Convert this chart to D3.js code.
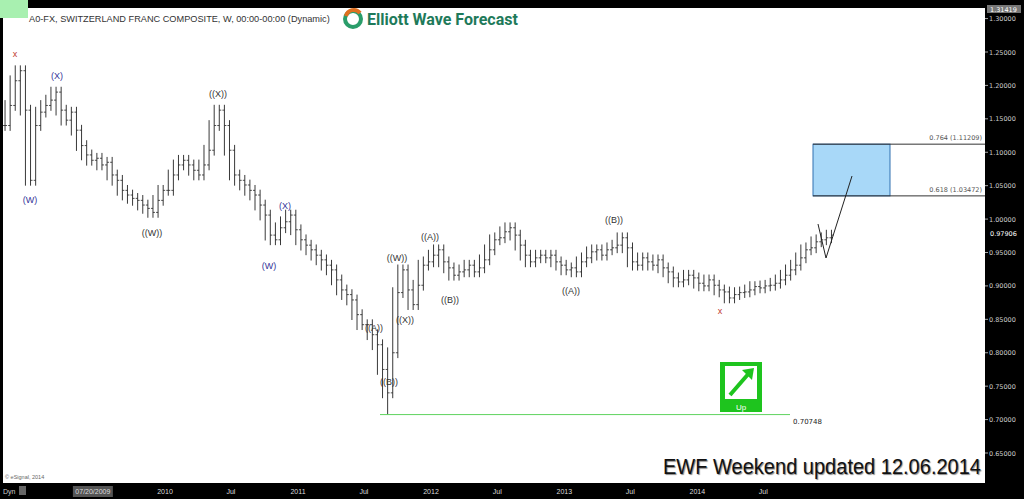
<!DOCTYPE html><html><head><meta charset="utf-8"><script src="https://cdn.jsdelivr.net/npm/d3@7"></script>
<style>body{margin:0;background:#000}svg{display:block}</style></head><body><svg id="c" width="1024" height="499"></svg>
<script>
const closes=[1.140,1.170,1.207,1.222,1.163,1.058,1.140,1.160,1.170,1.178,1.190,1.163,1.148,1.160,1.133,1.110,1.096,1.088,1.091,1.081,1.085,1.066,1.058,1.043,1.036,1.031,1.028,1.021,1.016,1.010,1.028,1.043,1.043,1.066,1.081,1.088,1.081,1.073,1.066,1.081,1.103,1.140,1.163,1.140,1.103,1.066,1.058,1.051,1.043,1.036,1.021,1.006,0.976,0.969,0.987,0.996,1.006,0.984,0.969,0.961,0.954,0.946,0.939,0.931,0.924,0.909,0.894,0.887,0.879,0.857,0.842,0.842,0.827,0.812,0.775,0.740,0.800,0.890,0.924,0.894,0.872,0.901,0.931,0.936,0.946,0.954,0.936,0.927,0.916,0.921,0.924,0.931,0.921,0.927,0.939,0.954,0.969,0.972,0.981,0.987,0.976,0.961,0.946,0.936,0.942,0.946,0.942,0.946,0.936,0.931,0.924,0.927,0.921,0.936,0.942,0.951,0.954,0.946,0.954,0.957,0.961,0.972,0.957,0.936,0.931,0.942,0.936,0.931,0.939,0.927,0.921,0.912,0.906,0.909,0.916,0.912,0.904,0.900,0.909,0.901,0.894,0.891,0.882,0.887,0.890,0.891,0.894,0.899,0.897,0.900,0.901,0.904,0.909,0.916,0.924,0.931,0.942,0.954,0.957,0.966,0.969,0.972,0.976];
const startDate=new Date(2008,9,19), stepDays=14;
const lowValue=0.70748, lastValue=0.97906, topValue=1.31419;
const fibLevels=[{r:"0.764",v:1.11209},{r:"0.618",v:1.03472}];
const yTicks=[1.30,1.25,1.20,1.15,1.10,1.05,1.00,0.95,0.90,0.85,0.80,0.75,0.70,0.65];
const xTicks=[["07/20/2009",new Date(2009,6,20)],["2010",new Date(2010,0,1)],["Jul",new Date(2010,6,1)],["2011",new Date(2011,0,1)],["Jul",new Date(2011,6,1)],["2012",new Date(2012,0,1)],["Jul",new Date(2012,6,1)],["2013",new Date(2013,0,1)],["Jul",new Date(2013,6,1)],["2014",new Date(2014,0,1)],["Jul",new Date(2014,6,1)]];
const labels=[["x",15,57,"#c0392b"],["(W)",30,203,"#333399"],["(X)",57,79,"#333399"],["((W))",152,236,"#333"],["((X))",218,97,"#333"],["(W)",269,269,"#333399"],["(X)",285,209,"#333399"],["((A))",374,331,"#333"],["((B))",389,385,"#333"],["((W))",397,261,"#333"],["((X))",405,323,"#333"],["((A))",430,240,"#333"],["((B))",450,303,"#333"],["((A))",571,294,"#333"],["((B))",614,223,"#333"],["x",720,314,"#c0392b"]];

const svg=d3.select("#c");
const L=3,R=985,T=8,B=483;
const y=d3.scaleLinear().domain([0.65,1.25]).range([453,52]);
const x=d3.scaleTime().domain([new Date(2010,0,1),new Date(2011,0,1)]).range([165,298]);
const dates=closes.map((c,i)=>d3.timeDay.offset(startDate,i*stepDays));
svg.append("rect").attr("width",1024).attr("height",499).attr("fill","#000");
svg.append("rect").attr("x",L).attr("y",T).attr("width",R-L).attr("height",B-T).attr("fill","#fff");
svg.append("rect").attr("x",0).attr("y",0).attr("width",28).attr("height",18).attr("fill","#a8f0b0");
const g=svg.append("g");
closes.forEach((c,i)=>{
  const prev=i?closes[i-1]:c, nxt=i<closes.length-1?closes[i+1]:c;
  let hi=Math.max(c,prev,nxt)+0.008, lo=Math.min(c,prev,nxt)-0.008;
  if(c===d3.min(closes)) lo=lowValue;
  const xx=x(dates[i]);
  g.append("line").attr("x1",xx).attr("x2",xx).attr("y1",y(hi)).attr("y2",y(lo)).attr("stroke","#222").attr("stroke-width",0.9);
  g.append("line").attr("x1",xx-2).attr("x2",xx).attr("y1",y(prev)).attr("y2",y(prev)).attr("stroke","#222").attr("stroke-width",0.8);
  g.append("line").attr("x1",xx).attr("x2",xx+2).attr("y1",y(c)).attr("y2",y(c)).attr("stroke","#222").attr("stroke-width",0.8);
});
labels.forEach(l=>svg.append("text").attr("x",l[1]).attr("y",l[2]).attr("fill",l[3]).attr("font-size",9).attr("font-family","Arial,Liberation Sans").attr("text-anchor","middle").text(l[0]));
svg.append("rect").attr("x",813).attr("y",y(fibLevels[0].v)).attr("width",77).attr("height",y(fibLevels[1].v)-y(fibLevels[0].v)).attr("fill","#a8d8f8").attr("stroke","#3070b0");
fibLevels.forEach(f=>{
  svg.append("line").attr("x1",813).attr("x2",R).attr("y1",y(f.v)).attr("y2",y(f.v)).attr("stroke","#333");
  svg.append("text").attr("x",982).attr("y",y(f.v)-4).attr("text-anchor","end").attr("font-size",6.5).attr("fill","#555").attr("font-family","DejaVu Sans").text(`${f.r} (${f.v.toFixed(5)})`);
});
svg.append("polyline").attr("points",`818,224 826,258 852,176`).attr("fill","none").attr("stroke","#222");
svg.append("line").attr("x1",380).attr("x2",790).attr("y1",y(lowValue)).attr("y2",y(lowValue)).attr("stroke","#5fd35f");
svg.append("text").attr("x",793).attr("y",y(lowValue)+9).attr("font-size",7).attr("font-family","DejaVu Sans").attr("fill","#222").text(lowValue.toFixed(5));
svg.append("rect").attr("x",720).attr("y",362).attr("width",42).attr("height",50).attr("fill","#1ec41e");
svg.append("rect").attr("x",725).attr("y",366).attr("width",32).attr("height",33).attr("fill","#fff");
svg.append("line").attr("x1",730).attr("y1",395).attr("x2",750).attr("y2",372).attr("stroke","#1ec41e").attr("stroke-width",4);
svg.append("path").attr("d","M742,370 L754,368 L752,380 Z").attr("fill","#1ec41e");
svg.append("text").attr("x",741).attr("y",410).attr("text-anchor","middle").attr("font-size",8).attr("fill","#fff").attr("font-family","Arial").text("Up");
yTicks.forEach(v=>{
  svg.append("line").attr("x1",R).attr("x2",R+3).attr("y1",y(v)).attr("y2",y(v)).attr("stroke","#aaa");
  svg.append("text").attr("x",989).attr("y",y(v)+2.5).attr("font-size",6.5).attr("fill","#ccc").attr("font-family","DejaVu Sans").text(v.toFixed(5));
});
svg.append("rect").attr("x",986).attr("y",y(lastValue)-5).attr("width",36).attr("height",10).attr("fill","#000");
svg.append("text").attr("x",990).attr("y",y(lastValue)+2.5).attr("font-size",6.5).attr("fill","#fff").attr("font-family","DejaVu Sans").text(lastValue.toFixed(5));
svg.append("rect").attr("x",987).attr("y",5).attr("width",34).attr("height",8).attr("fill","#777");
svg.append("text").attr("x",990).attr("y",11.5).attr("font-size",6.5).attr("fill","#fff").attr("font-family","DejaVu Sans").text(topValue.toFixed(5));
svg.append("text").attr("x",3).attr("y",494).attr("font-size",7).attr("fill","#ccc").attr("font-family","Arial").text("Dyn");
svg.append("rect").attr("x",19).attr("y",486).attr("width",7).attr("height",9).attr("fill","#666");
xTicks.forEach((t,i)=>{
  const xx=x(t[1])+(i===0?-12:0);
  if(i===0) svg.append("rect").attr("x",xx-20).attr("y",486).attr("width",40).attr("height",11).attr("fill","#555");
  svg.append("text").attr("x",xx).attr("y",494).attr("text-anchor","middle").attr("font-size",7).attr("fill","#ddd").attr("font-family","Arial").text(t[0]);
});
svg.append("text").attr("x",29).attr("y",22).attr("font-size",9.2).attr("fill","#333").attr("font-family","Liberation Sans,Arial").text("A0-FX, SWITZERLAND FRANC COMPOSITE, W, 00:00-00:00 (Dynamic)");
svg.append("circle").attr("cx",353).attr("cy",19).attr("r",8).attr("fill","none").attr("stroke","#2a9d6a").attr("stroke-width",4);
svg.append("path").attr("d","M346,16 A8,8 0 0 1 360,13").attr("fill","none").attr("stroke","#e07020").attr("stroke-width",4);
svg.append("text").attr("x",367).attr("y",25).attr("font-size",16).attr("font-weight","bold").attr("fill","#1e7a5a").attr("font-family","Roboto,Arial").text("Elliott Wave Forecast");
svg.append("text").attr("x",5).attr("y",479).attr("font-size",5.5).attr("fill","#666").attr("font-family","Arial").text("© eSignal, 2014");
svg.append("text").attr("x",663).attr("y",474).attr("textLength",318).attr("lengthAdjust","spacingAndGlyphs").attr("font-size",22).attr("fill","#111").attr("font-family","Liberation Sans").style("text-shadow","1px 1px 1px #888").text("EWF Weekend updated 12.06.2014");
</script></body></html>
